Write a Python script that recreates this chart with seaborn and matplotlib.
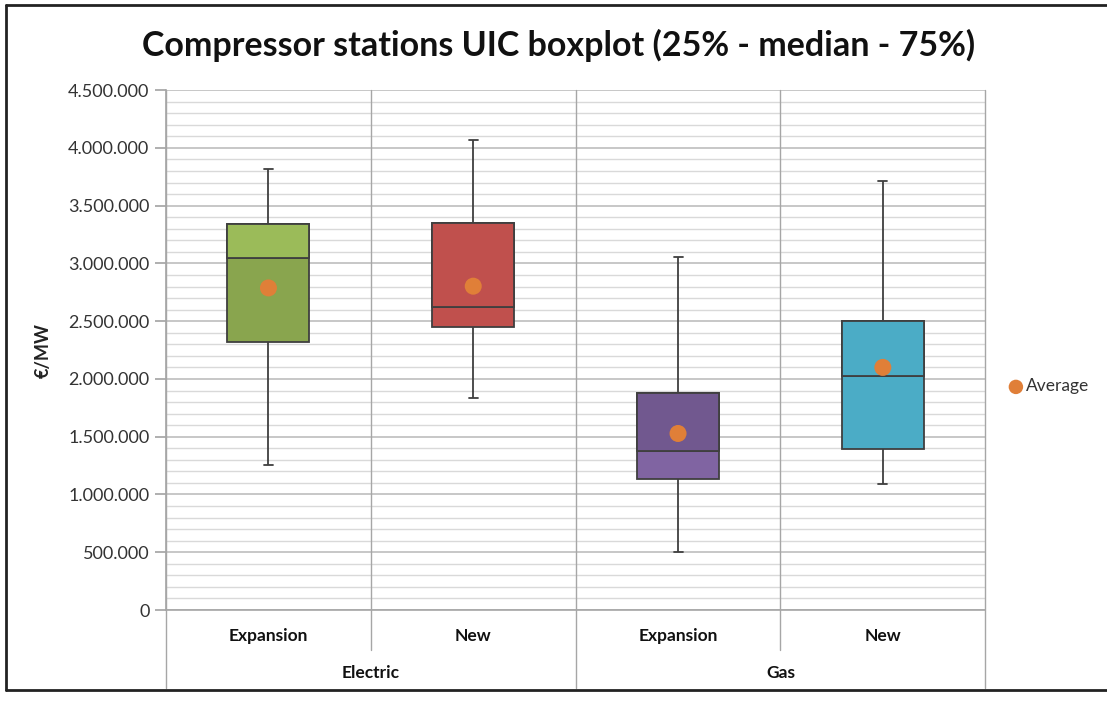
import numpy as np
import pandas as pd
import seaborn as sns
import matplotlib.pyplot as plt
from matplotlib.lines import Line2D
from matplotlib.ticker import MultipleLocator, FuncFormatter
import matplotlib.transforms as mtransforms

# data (EUR/MW)
groups = ["Electric", "Electric", "Gas", "Gas"]
types = ["Expansion", "New", "Expansion", "New"]
whisker_low = [1254000, 1834000, 502000, 1087000]
q1 = [2318000, 2448000, 1136000, 1390000]
median = [3051000, 2621000, 1375000, 2027000]
q3 = [3339000, 3348000, 1875000, 2500000]
whisker_high = [3815000, 4066000, 3056000, 3711000]
average = [2788000, 2803000, 1528000, 2100000]

lower_colors = ["#89A54E", "#C0504D", "#8064A2", "#4BACC6"]
upper_colors = ["#9BBB59", "#C0504D", "#71588F", "#4BACC6"]

cats = [f"{g}\n{t}" for g, t in zip(groups, types)]

# five-number summary per box -> quantiles reproduce exactly with whis=(0, 100)
rows = []
for c, a, b, m, d, e in zip(cats, whisker_low, q1, median, q3, whisker_high):
    for v in (a, b, m, d, e):
        rows.append({"cat": c, "value": v})
df = pd.DataFrame(rows)

sns.set_theme(style="white")
plt.rcParams["font.family"] = ["Lato", "DejaVu Sans"]

fig = plt.figure(figsize=(11.07, 7.04), dpi=100)
ax = fig.add_axes([0.15, 0.1335, 0.74, 0.7385])

edge = "#3F3F3F"
sns.boxplot(data=df, x="cat", y="value", hue="cat", order=cats,
            palette=dict(zip(cats, lower_colors)), saturation=1, whis=(0, 100),
            width=0.4, linecolor=edge, linewidth=1.3, legend=False,
            fliersize=0, ax=ax, zorder=3)

# narrow whisker caps like the original
for ln in ax.lines:
    xd, yd = np.asarray(ln.get_xdata(), float), np.asarray(ln.get_ydata(), float)
    if len(xd) == 2 and yd[0] == yd[1] and xd[0] != xd[1]:
        c = xd.mean()
        if yd[0] in whisker_low or yd[0] in whisker_high:
            ln.set_xdata([c - 0.022, c + 0.022])

# upper half of each box (median to Q3)
pos = np.arange(len(cats))
ax.bar(pos, np.array(q3) - np.array(median), bottom=median, width=0.4,
       color=upper_colors, edgecolor=edge, linewidth=1.3, zorder=4)

# averages
ax.scatter(pos, average, s=150, color="#E07F38", zorder=6, label="Average",
           edgecolor="none")

ax.set_ylim(0, 4500000)
ax.set_xlim(-0.5, 3.5)
ax.yaxis.set_major_locator(MultipleLocator(500000))
ax.yaxis.set_minor_locator(MultipleLocator(100000))
ax.yaxis.set_major_formatter(FuncFormatter(lambda v, p: f"{int(v):,}".replace(",", ".")))
ax.grid(axis="y", which="major", color="#BDBDBD", linewidth=1.2, zorder=0)
ax.grid(axis="y", which="minor", color="#D9D9D9", linewidth=1.0, zorder=0)
ax.set_axisbelow(True)
ax.tick_params(axis="y", which="major", length=8, color="#A6A6A6", labelsize=13,
               labelcolor="#333333", left=True, pad=4)
ax.tick_params(axis="y", which="minor", length=0)
ax.tick_params(axis="x", length=0, labelbottom=False)

for s in ["top", "right"]:
    ax.spines[s].set_visible(False)
ax.spines["left"].set_color("#A6A6A6")
ax.spines["bottom"].set_color("#A6A6A6")
ax.spines["left"].set_linewidth(1.2)
ax.spines["bottom"].set_linewidth(1.2)

ax.set_xlabel("")
ax.set_ylabel("€/MW", fontsize=13, fontweight="bold", color="#222222", labelpad=12)

# category separators, extending into the label area
trans = mtransforms.blended_transform_factory(ax.transData, ax.transAxes)
for x, y0 in [(-0.5, -0.15), (0.5, -0.077), (1.5, -0.15), (2.5, -0.077), (3.5, -0.15)]:
    ax.plot([x, x], [y0, 1.0], color="#A6A6A6", linewidth=1.0, transform=trans,
            clip_on=False, zorder=1)

for p, t in zip(pos, types):
    ax.text(p, -0.05, t, transform=trans, ha="center", va="center",
            fontsize=12.5, fontweight="bold", color="#111111")
ax.text(0.5, -0.122, "Electric", transform=trans, ha="center", va="center",
        fontsize=12.5, fontweight="bold", color="#111111")
ax.text(2.5, -0.122, "Gas", transform=trans, ha="center", va="center",
        fontsize=12.5, fontweight="bold", color="#111111")

fig.text(0.505, 0.935, "Compressor stations UIC boxplot (25% - median - 75%)",
         ha="center", va="center", fontsize=24.5, fontweight="bold", color="#111111")

leg = ax.legend(loc="center left", bbox_to_anchor=(1.012, 0.43), frameon=False,
                fontsize=12.5, handletextpad=0.0, handlelength=1.2,
                markerscale=0.85, borderaxespad=0.2)
for txt in leg.get_texts():
    txt.set_color("#333333")

# outer chart frame
for xs, ys in [([0.005, 0.005], [0.02, 0.993]), ([0.005, 1.0], [0.993, 0.993]),
               ([0.005, 1.0], [0.02, 0.02])]:
    fig.add_artist(Line2D(xs, ys, color="#222222", linewidth=2, transform=fig.transFigure))

fig.savefig("out.png", dpi=100)
